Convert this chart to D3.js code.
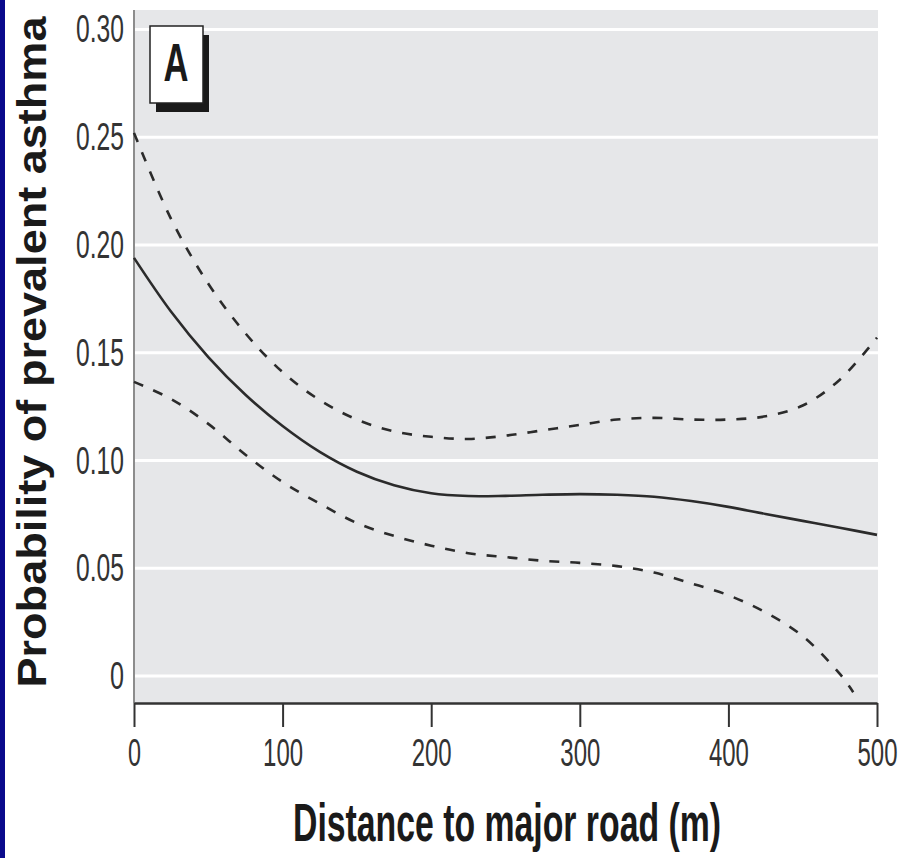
<!DOCTYPE html>
<html>
<head>
<meta charset="utf-8">
<script src="https://cdn.jsdelivr.net/npm/d3@7"></script>
<style>
  body { margin: 0; background: #fff; }
  svg { display: block; }
</style>
</head>
<body>
<script>
// values
const distance = [0, 25, 50, 75, 100, 125, 150, 175, 200, 225, 250, 275, 300, 325, 350, 375, 400, 425, 450, 475, 500]
const estimate = [0.194, 0.169, 0.148, 0.1305, 0.116, 0.104, 0.0948, 0.0885, 0.0848, 0.0835, 0.0836, 0.0841, 0.0844, 0.0841, 0.0832, 0.0812, 0.0785, 0.0752, 0.072, 0.0688, 0.0655]
const upper = [0.252, 0.212, 0.182, 0.159, 0.141, 0.128, 0.119, 0.1135, 0.111, 0.110, 0.1115, 0.114, 0.1165, 0.119, 0.1198, 0.119, 0.119, 0.1205, 0.1255, 0.1375, 0.157]
const lowerDistance = [0, 25, 50, 75, 100, 125, 150, 175, 200, 225, 250, 275, 300, 325, 350, 375, 400, 425, 450, 475, 484]
const lower = [0.1365, 0.1285, 0.117, 0.1027, 0.090, 0.080, 0.071, 0.065, 0.0605, 0.057, 0.0552, 0.0535, 0.0525, 0.051, 0.048, 0.043, 0.0375, 0.0295, 0.0185, 0.001, -0.0075]
const xTicks = [0, 100, 200, 300, 400, 500]
const yTicks = [0, 0.05, 0.10, 0.15, 0.20, 0.25, 0.30]
const yTickLabels = ["0", "0.05", "0.10", "0.15", "0.20", "0.25", "0.30"]

const W = 899, H = 858
const narrow = "'Liberation Sans Narrow', 'Liberation Sans', Arial, sans-serif"

const svg = d3.select("body").append("svg")
  .attr("width", W)
  .attr("height", H)

// blue strip on the left edge
svg.append("rect").attr("x", 0).attr("y", 0).attr("width", 5).attr("height", H).attr("fill", "#0a0a8c")

const x = d3.scaleLinear().domain([0, 500]).range([134, 877])
const y = d3.scaleLinear().domain([-0.0125, 0.309]).range([703, 10])

// plot background
svg.append("rect")
  .attr("x", x(0)).attr("y", y(0.309))
  .attr("width", 878 - x(0)).attr("height", y(-0.0125) - y(0.309))
  .attr("fill", "#e6e7e9")

// white gridlines
svg.append("g").selectAll("line")
  .data(yTicks)
  .join("line")
  .attr("x1", x(0) + 1).attr("x2", 878)
  .attr("y1", d => y(d)).attr("y2", d => y(d))
  .attr("stroke", "#fff").attr("stroke-width", 3)

// y axis: grey line, labels only
svg.append("line")
  .attr("x1", x(0)).attr("x2", x(0))
  .attr("y1", y(0.309)).attr("y2", y(-0.0125))
  .attr("stroke", "#8c8c8c").attr("stroke-width", 2)

const yAxis = svg.append("g")
  .attr("transform", `translate(${x(0)},0)`)
  .call(d3.axisLeft(y).tickValues(yTicks).tickSize(0).tickPadding(10)
    .tickFormat((d, i) => yTickLabels[i]))
yAxis.select(".domain").remove()
yAxis.selectAll("text")
  .attr("font-family", narrow)
  .attr("font-size", 38)
  .attr("fill", "#333")
  .attr("dy", "0.33em")
  .attr("textLength", d => yTickLabels[yTicks.indexOf(d)].length > 1 ? 48 : 14)
  .attr("lengthAdjust", "spacingAndGlyphs")

// x axis
const xAxis = svg.append("g")
  .attr("transform", `translate(0,${y(-0.0125)})`)
  .call(d3.axisBottom(x).tickValues(xTicks).tickSize(24).tickPadding(12).tickSizeOuter(0))
xAxis.select(".domain").attr("stroke", "#333").attr("stroke-width", 2.5)
xAxis.selectAll(".tick line").attr("stroke", "#333").attr("stroke-width", 2)
xAxis.selectAll("text")
  .attr("font-family", narrow)
  .attr("font-size", 38)
  .attr("fill", "#333")
  .attr("textLength", d => d === 0 ? 13 : 40)
  .attr("lengthAdjust", "spacingAndGlyphs")

// curves
const line = d3.line()
  .x(d => x(d[0]))
  .y(d => y(d[1]))
  .curve(d3.curveCatmullRom.alpha(0.5))

svg.append("path")
  .attr("d", line(d3.zip(distance, estimate)))
  .attr("fill", "none").attr("stroke", "#2b2b2b").attr("stroke-width", 2.6)

svg.append("path")
  .attr("d", line(d3.zip(distance, upper)))
  .attr("fill", "none").attr("stroke", "#2b2b2b").attr("stroke-width", 2.6)
  .attr("stroke-dasharray", "10,11")

svg.append("path")
  .attr("d", line(d3.zip(lowerDistance, lower)))
  .attr("fill", "none").attr("stroke", "#2b2b2b").attr("stroke-width", 2.6)
  .attr("stroke-dasharray", "10,11")

// panel label
svg.append("rect").attr("x", 156).attr("y", 35).attr("width", 53).attr("height", 77).attr("fill", "#1a1a1a")
svg.append("rect").attr("x", 150).attr("y", 26).attr("width", 53).attr("height", 77)
  .attr("fill", "#fff").attr("stroke", "#222").attr("stroke-width", 1.5)
svg.append("text")
  .attr("x", 176).attr("y", 81)
  .attr("text-anchor", "middle")
  .attr("font-family", narrow).attr("font-weight", "bold").attr("font-size", 54)
  .attr("fill", "#1a1a1a")
  .attr("textLength", 25).attr("lengthAdjust", "spacingAndGlyphs")
  .text("A")

// axis titles
svg.append("text")
  .attr("transform", "translate(46,352) rotate(-90)")
  .attr("text-anchor", "middle")
  .attr("font-family", "'Liberation Sans', Arial, sans-serif").attr("font-weight", "bold").attr("font-size", 41)
  .attr("fill", "#1a1a1a")
  .attr("textLength", 671).attr("lengthAdjust", "spacingAndGlyphs")
  .text("Probability of prevalent asthma")

svg.append("text")
  .attr("x", 507).attr("y", 841)
  .attr("text-anchor", "middle")
  .attr("font-family", narrow).attr("font-weight", "bold").attr("font-size", 54)
  .attr("fill", "#1a1a1a")
  .attr("textLength", 428).attr("lengthAdjust", "spacingAndGlyphs")
  .text("Distance to major road (m)")
</script>
</body>
</html>
